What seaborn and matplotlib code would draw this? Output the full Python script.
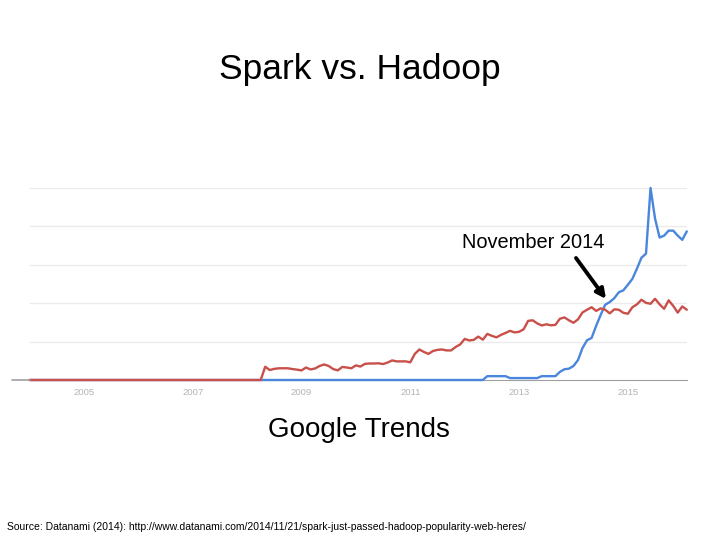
import numpy as np
import pandas as pd
import matplotlib
matplotlib.use("Agg")
import matplotlib.pyplot as plt
import seaborn as sns

# ---------------------------------------------
# data: monthly Google Trends index, Jan 2004 on
# ---------------------------------------------
hadoop = [
    0, 0, 0, 0, 0, 0, 0, 0, 0, 0, 0, 0,
    0, 0, 0, 0, 0, 0, 0, 0, 0, 0, 0, 0,
    0, 0, 0, 0, 0, 0, 0, 0, 0, 0, 0, 0,
    0, 0, 0, 0, 0, 0, 0, 0, 0, 0, 0, 0,
    0, 0, 0, 0, 6.9, 5.2, 5.8, 6.1, 6.1, 6.1, 5.7, 5.4,
    5.0, 6.5, 5.5, 6.0, 7.3, 8.1, 7.3, 5.7, 5.0, 6.8, 6.5, 6.1,
    7.6, 7.0, 8.4, 8.6, 8.6, 8.7, 8.3, 9.1, 10.2, 9.7, 9.7, 9.7,
    9.2, 13.6, 15.9, 14.6, 13.6, 15.1, 15.7, 15.9, 15.4, 15.4, 17.2, 18.5,
    21.4, 20.6, 20.9, 22.6, 21.0, 24.0, 23.0, 22.2, 23.5, 24.5, 25.6, 24.8,
    25.1, 26.4, 30.8, 31.1, 29.5, 28.4, 29.0, 28.5, 28.7, 31.9, 32.6, 31.1,
    29.8, 31.6, 35.2, 36.6, 37.9, 36.0, 37.3, 36.6, 34.7, 36.8, 36.6, 35.0,
    34.5, 37.9, 39.4, 41.8, 40.2, 39.7, 42.3, 39.4, 37.1, 41.5, 38.6, 35.1,
    38.3, 36.6,
]
spark = [
    0, 0, 0, 0, 0, 0, 0, 0, 0, 0, 0, 0,
    0, 0, 0, 0, 0, 0, 0, 0, 0, 0, 0, 0,
    0, 0, 0, 0, 0, 0, 0, 0, 0, 0, 0, 0,
    0, 0, 0, 0, 0, 0, 0, 0, 0, 0, 0, 0,
    0, 0, 0, 0, 0, 0, 0, 0, 0, 0, 0, 0,
    0, 0, 0, 0, 0, 0, 0, 0, 0, 0, 0, 0,
    0, 0, 0, 0, 0, 0, 0, 0, 0, 0, 0, 0,
    0, 0, 0, 0, 0, 0, 0, 0, 0, 0, 0, 0,
    0, 0, 0, 0, 0, 2, 2, 2, 2, 2, 1, 1,
    1, 1, 1, 1, 1, 2, 2, 2, 2, 4.2, 5.6, 5.9,
    7.3, 10.4, 16.7, 20.7, 21.9, 28.2, 33.9, 39.2, 40.6, 42.6, 45.7, 46.7,
    49.6, 52.7, 58.0, 63.7, 65.8, 100, 84, 74.2, 75.2, 77.8, 77.8, 75.2,
    73.0, 77.4,
]
years = 2004 + np.arange(len(hadoop)) / 12
tick_years = [2005, 2007, 2009, 2011, 2013, 2015]

df = pd.DataFrame({
    "year": np.concatenate([years, years]),
    "interest": hadoop + spark,
    "term": ["Hadoop"] * len(hadoop) + ["Spark"] * len(spark),
})

# ---------------------------------------------
# plot
# ---------------------------------------------
sns.set_style("white")
plt.rcParams["font.family"] = ["Liberation Sans", "DejaVu Sans"]
plt.rcParams["text.color"] = "black"

fig = plt.figure(figsize=(7.2, 5.4), dpi=100)
ax = fig.add_axes([29.5 / 720, 1 - 380 / 540, (686.8 - 29.5) / 720, 192 / 540])

sns.lineplot(
    data=df, x="year", y="interest", hue="term",
    palette={"Hadoop": "#c9504a", "Spark": "#4a86dc"},
    hue_order=["Spark", "Hadoop"],
    linewidth=1.7, legend=False, ax=ax,
)
for line in ax.lines:
    line.set_clip_on(False)

ax.set_xlim(2004, years[-1])
ax.set_ylim(0, 100)
ax.set_yticks([20, 40, 60, 80, 100])
ax.yaxis.grid(True, color="#ebebeb", linewidth=1)
ax.set_yticklabels([])
ax.tick_params(axis="y", length=0)
ax.set_xticks(tick_years)
ax.set_xticklabels([str(y) for y in tick_years], color="#b4b4b4", fontsize=6.8)
ax.tick_params(axis="x", length=0, pad=6)
ax.set_xlabel("")
ax.set_ylabel("")
for side in ["top", "right", "left"]:
    ax.spines[side].set_visible(False)
ax.spines["bottom"].set_color("#a0a0a0")
ax.spines["bottom"].set_zorder(0)
ax.axhline(0, xmin=-0.027, xmax=0, color="#a0a0a0", linewidth=1.2, clip_on=False)

# annotation
fig.text(533 / 720, 1 - 243 / 540, "November 2014", ha="center", va="center",
         fontsize=14.4, color="black")
ax.annotate(
    "",
    xy=(606 / 720, 1 - 299 / 540), xycoords="figure fraction",
    xytext=(576 / 720, 1 - 258 / 540), textcoords="figure fraction",
    arrowprops=dict(arrowstyle="-|>", color="black", lw=2.8,
                    mutation_scale=14, shrinkA=0, shrinkB=0),
)

fig.text(0.5, 1 - 70 / 540, "Spark vs. Hadoop", ha="center", va="center",
         fontsize=25.5, color="black")
fig.text(359 / 720, 1 - 430 / 540, "Google Trends", ha="center", va="center",
         fontsize=20, color="black")
fig.text(7 / 720, 1 - 527 / 540,
         "Source: Datanami (2014): http://www.datanami.com/2014/11/21/spark-just-passed-hadoop-popularity-web-heres/",
         ha="left", va="center", fontsize=7.45, color="black")

fig.savefig("out.png", dpi=100)
